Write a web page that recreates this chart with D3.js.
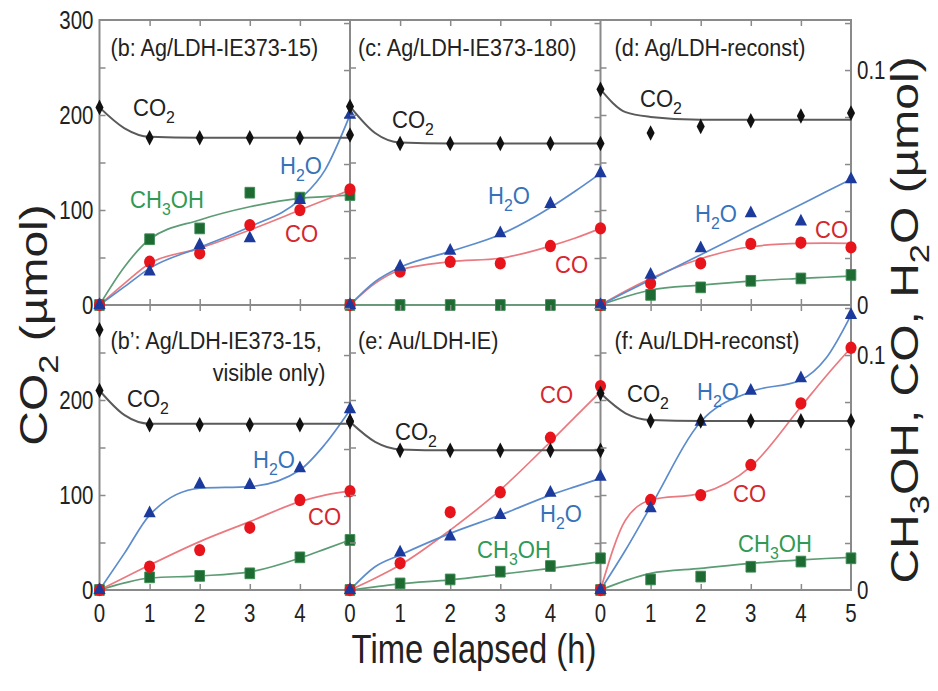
<!DOCTYPE html>
<html>
<head>
<meta charset="utf-8">
<script src="https://cdn.jsdelivr.net/npm/d3@7"></script>
<style>
  body { margin: 0; background: #fff; }
  svg { display: block; }
  text { font-family: "Liberation Sans", Arial, Helvetica, sans-serif; }
</style>
</head>
<body>
<svg id="chart" width="938" height="691"></svg>
<script>
// --- DATA ---
// measured points at whole hours, fit curves read at fitHours
const hours = [0, 1, 2, 3, 4, 5];
const fitHours = [0, 0.5, 1, 2, 3, 4, 4.5, 5];
const xTicks = [0, 1, 2, 3, 4, 5];
const leftTicks = [0, 100, 200, 300];
const rightTicks = [0, 0.1];

// panels: b, c, d (top row), b', e, f (bottom row)
const panelTitles = [
    ["(b: Ag/LDH-IE373-15)"],
    ["(c: Ag/LDH-IE373-180)"],
    ["(d: Ag/LDH-reconst)"],
    ["(b\u2019: Ag/LDH-IE373-15,", "visible only)"],
    ["(e: Au/LDH-IE)"],
    ["(f: Au/LDH-reconst)"]
];

// CO2, left axis (umol)
const co2Pts = [
    [208, 176, 176, 176, 176, 179],
    [209, 170, 170, 170, 170, 170],
    [227, 181, 188, 194, 199, 202],
    [210, 174, 174, 174, 174, 178],
    [177, 147, 147, 147, 147, 147],
    [207, 178, 178, 178, 178, 178]
];
const co2Extra = [{ panel: 3, t: 0, v: 274 }];
const co2Fit = [
    [208, 186, 177, 176, 176, 176, 176, 176],
    [209, 181, 171, 170, 170, 170, 170, 170],
    [227, 203, 198, 195, 195, 195, 195, 195],
    [210, 184, 175, 175, 175, 175, 175, 175],
    [177, 156, 148, 147, 147, 147, 147, 147],
    [207, 186, 179, 178, 178, 178, 178, 178]
];

// CO, H2O, CH3OH, right axis (umol)
const coPts = [
    [0, 0.0184, 0.0220, 0.0340, 0.0404, 0.0492],
    [0, 0.0142, 0.0184, 0.0177, 0.0251, 0.0326],
    [0, 0.0092, 0.0177, 0.0260, 0.0265, 0.0245],
    [0, 0.0099, 0.0170, 0.0265, 0.0383, 0.0421],
    [0, 0.0114, 0.0331, 0.0416, 0.0648, 0.0868],
    [0, 0.0383, 0.0404, 0.0532, 0.0794, 0.1031]
];
const coFit = [
    [0, 0.0092, 0.0177, 0.0241, 0.0319, 0.0404, 0.0447, 0.0489],
    [0, 0.0092, 0.0149, 0.0184, 0.0199, 0.0251, 0.0285, 0.0326],
    [0, 0.0060, 0.0113, 0.0197, 0.0248, 0.0262, 0.0263, 0.0262],
    [0, 0.0053, 0.0106, 0.0206, 0.0291, 0.0376, 0.0404, 0.0421],
    [0, 0.0050, 0.0106, 0.0255, 0.0426, 0.0631, 0.0738, 0.0844],
    [0, 0.0298, 0.0383, 0.0411, 0.0525, 0.0780, 0.0910, 0.1031]
];
const h2oPts = [
    [0, 0.0142, 0.0255, 0.0284, 0.0447, 0.0809],
    [0, 0.0163, 0.0231, 0.0305, 0.0430, 0.0560],
    [0, 0.0128, 0.0241, 0.0390, 0.0355, 0.0535],
    [0, 0.0326, 0.0450, 0.0447, 0.0518, 0.0769],
    [0, 0.0159, 0.0227, 0.0319, 0.0414, 0.0482],
    [0, 0.0348, 0.0716, 0.0848, 0.0901, 0.1170]
];
const h2oFit = [
    [0, 0.0078, 0.0156, 0.0245, 0.0333, 0.0450, 0.0574, 0.0809],
    [0, 0.0099, 0.0160, 0.0228, 0.0300, 0.0415, 0.0485, 0.0560],
    [0, 0.0054, 0.0107, 0.0214, 0.0321, 0.0428, 0.0482, 0.0535],
    [0, 0.0157, 0.0319, 0.0433, 0.0440, 0.0511, 0.0620, 0.0766],
    [0, 0.0099, 0.0149, 0.0241, 0.0319, 0.0404, 0.0440, 0.0475],
    [0, 0.0170, 0.0355, 0.0716, 0.0844, 0.0894, 0.0986, 0.1170]
];
const meohPts = [
    [0, 0.0280, 0.0326, 0.0478, 0.0457, 0.0468],
    [0, 0, 0, 0, 0, 0],
    [0, 0.0043, 0.0075, 0.0103, 0.0113, 0.0128],
    [0, 0.0054, 0.0060, 0.0071, 0.0139, 0.0213],
    [0, 0.0028, 0.0045, 0.0078, 0.0102, 0.0135],
    [0, 0.0045, 0.0057, 0.0099, 0.0121, 0.0135]
];
const meohFit = [
    [0, 0.0163, 0.0280, 0.0362, 0.0418, 0.0454, 0.0461, 0.0468],
    [0, 0, 0, 0, 0, 0, 0, 0],
    [0, 0.0035, 0.0064, 0.0085, 0.0102, 0.0113, 0.0118, 0.0123],
    [0, 0.0030, 0.0051, 0.0060, 0.0077, 0.0136, 0.0174, 0.0213],
    [0, 0.0013, 0.0026, 0.0043, 0.0067, 0.0092, 0.0106, 0.0121],
    [0, 0.0040, 0.0071, 0.0092, 0.0113, 0.0128, 0.0134, 0.0139]
];

// --- LAYOUT ---
const X0 = 99.5, PW = 250.5, Y0 = 20, PH = 285;
const SX = 0.82;   // the figure is squeezed sideways
const frameColor = "#8a8a8a";

const species = {
    co2:  { pts: co2Pts,  fit: co2Fit,  axis: "left",  marker: "#111", line: "#5a5a5a", label: "#222", shape: d3.symbolDiamond, size: 70, name: [["CO"], ["2", 1]] },
    co:   { pts: coPts,   fit: coFit,   axis: "right", marker: "#e8141c", line: "#ea7a80", label: "#d6262e", shape: d3.symbolCircle, size: 120, name: [["CO"]] },
    meoh: { pts: meohPts, fit: meohFit, axis: "right", marker: "#1d6a33", line: "#5c9c74", label: "#2f9a55", shape: d3.symbolSquare, size: 115, name: [["CH"], ["3", 1], ["OH"]] },
    h2o:  { pts: h2oPts,  fit: h2oFit,  axis: "right", marker: "#1c3a9c", line: "#5c8ccc", label: "#3672ba", shape: d3.symbolTriangle, size: 80, name: [["H"], ["2", 1], ["O"]] }
};
const drawOrder = ["meoh", "co", "h2o", "co2"];

// species labels, baseline positions
const speciesLabels = [
    [["co2", 133, 116], ["h2o", 280, 174], ["meoh", 130, 208], ["co", 285, 242]],
    [["co2", 392, 128], ["h2o", 488, 204], ["co", 555, 273]],
    [["co2", 640, 107], ["h2o", 695, 222], ["co", 815, 238]],
    [["co2", 127, 407], ["h2o", 253, 468], ["co", 308, 525]],
    [["co2", 395, 440], ["co", 540, 403], ["h2o", 540, 522], ["meoh", 477, 558]],
    [["co2", 627, 402], ["h2o", 697, 400], ["co", 733, 502], ["meoh", 738, 552]]
];

const svg = d3.select("#chart");

// text with optional subscripts, squeezed horizontally
function addText(g, x, y, parts, size, opts = {}) {
    const sx = opts.sx ?? SX;
    const rot = opts.rotate ? " rotate(-90)" : "";
    const t = g.append("text")
        .attr("transform", `translate(${x},${y}) scale(${sx},1)${rot}`)
        .attr("font-size", size)
        .attr("fill", opts.fill || "#222")
        .attr("text-anchor", opts.anchor || "start");
    let shifted = false;
    parts.forEach(([s, sub]) => {
        const ts = t.append("tspan").text(s);
        if (sub && !shifted) { ts.attr("dy", size * 0.28).attr("font-size", size * 0.72); shifted = true; }
        else if (!sub && shifted) { ts.attr("dy", -size * 0.28); shifted = false; }
    });
    return t;
}

// --- PANELS ---
panelTitles.forEach((title, i) => {
    const col = i % 3, row = Math.floor(i / 3);
    const left = X0 + col * PW, top = Y0 + row * PH;
    const x = d3.scaleLinear([0, 5], [left, left + PW]);
    const yL = d3.scaleLinear([0, 300], [top + PH, top]);
    const yR = d3.scaleLinear([0, 0.1213], [top + PH, top]);
    const g = svg.append("g").attr("class", "panel");

    // inward ticks on all four sides
    const tickStyle = sel => {
        sel.select(".domain").remove();
        sel.selectAll("line").attr("stroke", frameColor).attr("stroke-width", 1.5);
        sel.selectAll("text").remove();
    };
    g.append("g").attr("transform", `translate(0,${top + PH})`)
        .call(d3.axisBottom(x).tickValues([1, 2, 3, 4]).tickSize(-6)).call(tickStyle);
    g.append("g").attr("transform", `translate(0,${top})`)
        .call(d3.axisTop(x).tickValues([1, 2, 3, 4]).tickSize(-6)).call(tickStyle);
    g.append("g").attr("transform", `translate(${left},0)`)
        .call(d3.axisLeft(yL).tickValues([50, 100, 150, 200, 250]).tickSize(-6)).call(tickStyle);
    g.append("g").attr("transform", `translate(${left + PW},0)`)
        .call(d3.axisRight(yR).tickValues([0.02, 0.04, 0.06, 0.08, 0.1, 0.12]).tickSize(-6)).call(tickStyle);

    // fit curves
    const clipId = `clip${i}`;
    svg.append("clipPath").attr("id", clipId)
        .append("rect").attr("x", left).attr("y", top).attr("width", PW).attr("height", PH);
    const lines = g.append("g").attr("clip-path", `url(#${clipId})`);
    drawOrder.forEach(key => {
        const sp = species[key];
        const y = sp.axis === "left" ? yL : yR;
        const line = d3.line().x((d, j) => x(fitHours[j])).y(d => y(d)).curve(d3.curveMonotoneX);
        lines.append("path")
            .attr("d", line(sp.fit[i]))
            .attr("fill", "none")
            .attr("stroke", sp.line)
            .attr("stroke-width", key === "co2" ? 2 : 1.7);
    });

    // markers
    drawOrder.forEach(key => {
        const sp = species[key];
        const y = sp.axis === "left" ? yL : yR;
        const sym = d3.symbol().type(sp.shape).size(sp.size);
        let pts = sp.pts[i].map((v, j) => ({ t: hours[j], v }));
        if (key === "co2") pts = pts.concat(co2Extra.filter(e => e.panel === i));
        g.append("g").selectAll("path")
            .data(pts)
            .join("path")
            .attr("d", sym)
            .attr("transform", d => `translate(${x(d.t)},${y(d.v)}) scale(${SX + 0.08},1)`)
            .attr("fill", sp.marker)
            .attr("stroke", key === "meoh" ? "#3c8a52" : "none")
            .attr("stroke-width", 1);
    });

    // panel title
    const titleX = left + (col === 0 ? 11 : col === 1 ? 8 : 14);
    const titleY = row === 0 ? top + 36 : top + 44;
    addText(g, titleX, titleY, [[title[0]]], 24, { sx: 0.9 });
    if (title[1]) addText(g, left + 226, titleY + 32, [[title[1]]], 24, { sx: 0.9, anchor: "end" });

    // species labels
    speciesLabels[i].forEach(([key, lx, ly]) => {
        addText(g, lx, ly, species[key].name, 24, { sx: 0.92, fill: species[key].label });
    });

    // tick labels
    if (row === 1) {
        const xs = col === 2 ? xTicks : xTicks.slice(0, 5);
        xs.forEach(v => addText(g, x(v), 622, [[String(v)]], 25, { anchor: "middle" }));
    }
    if (col === 0) {
        const ls = row === 0 ? leftTicks : leftTicks.slice(0, 3);
        ls.forEach(v => addText(g, left - 6, yL(v) + 9, [[String(v)]], 25, { anchor: "end" }));
    }
    if (col === 2) {
        rightTicks.forEach(v => addText(g, left + PW + 6, yR(v) + 9, [[String(v)]], 25));
    }
});

// frame
const frame = svg.append("g").attr("fill", "none").attr("stroke", frameColor).attr("stroke-width", 2);
frame.append("rect").attr("x", X0).attr("y", Y0).attr("width", 3 * PW).attr("height", 2 * PH);
[1, 2].forEach(c => frame.append("line")
    .attr("x1", X0 + c * PW).attr("x2", X0 + c * PW).attr("y1", Y0).attr("y2", Y0 + 2 * PH));
frame.append("line").attr("x1", X0).attr("x2", X0 + 3 * PW).attr("y1", Y0 + PH).attr("y2", Y0 + PH);
frame.lower();

// axis titles
addText(svg, 474, 663, [["Time elapsed (h)"]], 40, { anchor: "middle" });
addText(svg, 47, 325, [["CO"], ["2", 1], [" (\u00b5mol)"]], 48, { anchor: "middle", rotate: true });
addText(svg, 918, 320, [["CH"], ["3", 1], ["OH, CO, H"], ["2", 1], ["O (\u00b5mol)"]], 48, { anchor: "middle", rotate: true });
</script>
</body>
</html>
